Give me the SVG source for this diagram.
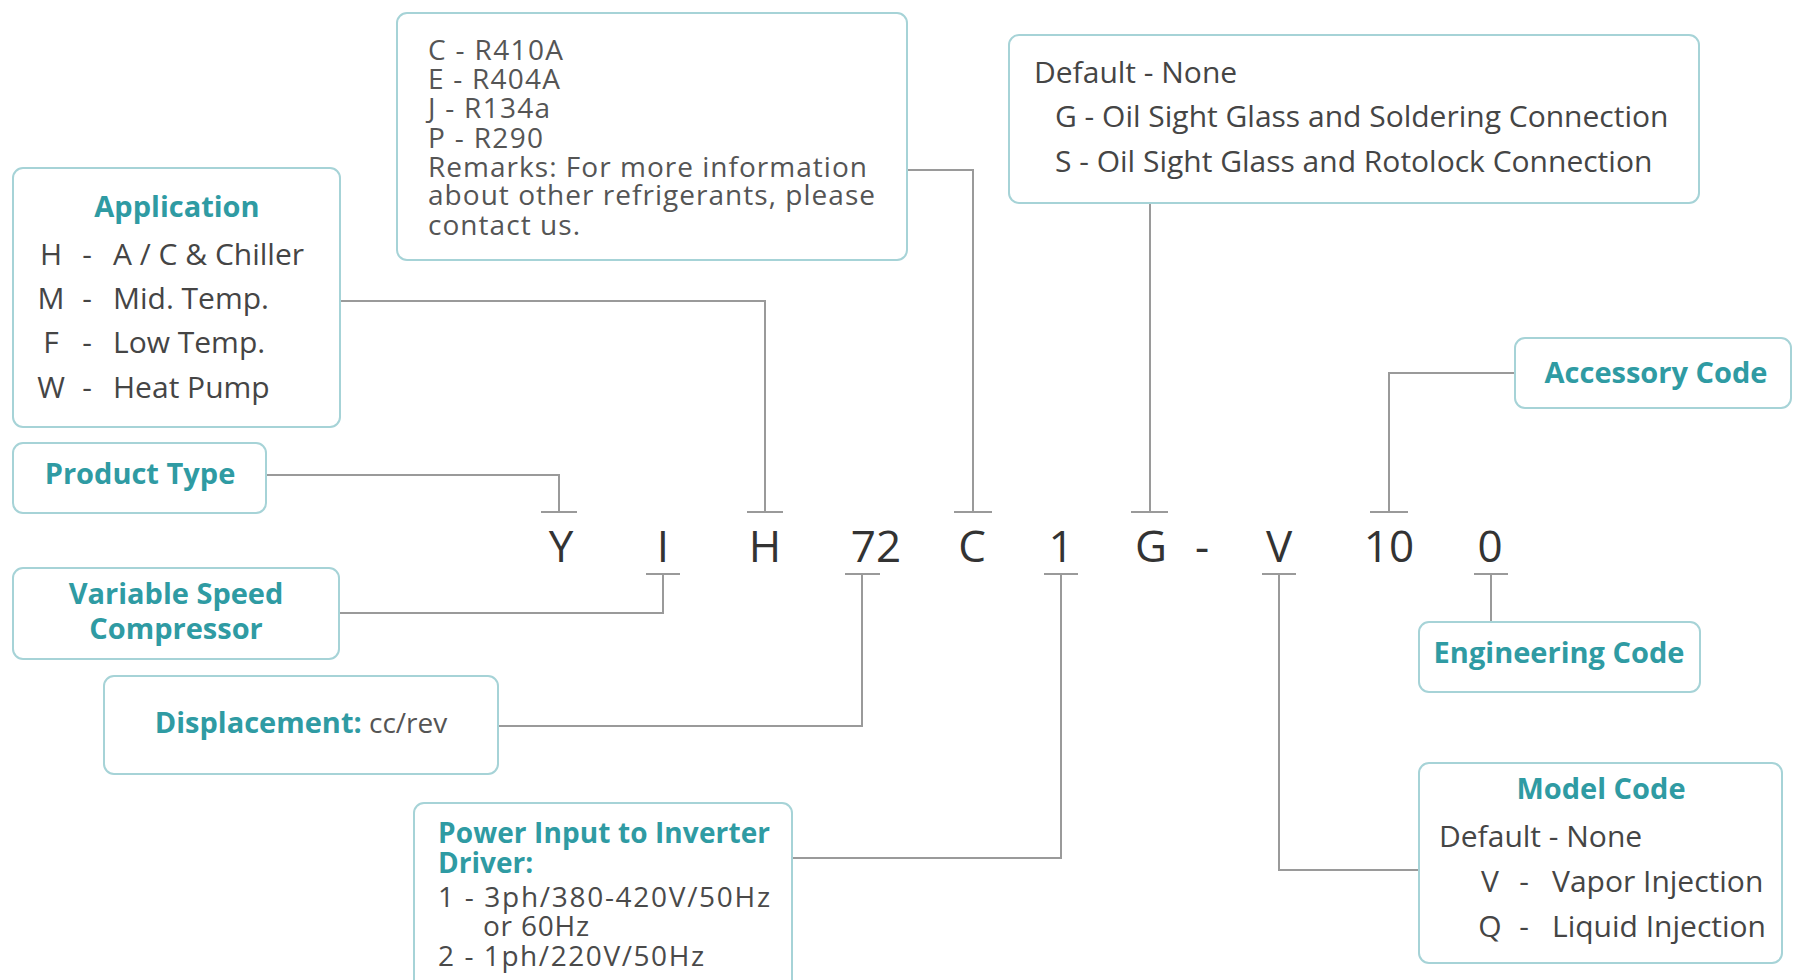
<svg xmlns="http://www.w3.org/2000/svg" width="1793" height="980" viewBox="0 0 1793 980">
<style>
.box{fill:#fff;stroke:#a6d3d7;stroke-width:2}
.ttl{font-family:"Open Sans","Noto Sans",sans-serif;font-weight:700;fill:#2f9ba3;font-size:29px}
.txt{font-family:"Open Sans","Noto Sans",sans-serif;fill:#454545;font-size:30px}
.ref{font-family:"Open Sans","Noto Sans",sans-serif;fill:#555;font-size:28px}
.pw{font-family:"Open Sans","Noto Sans",sans-serif;fill:#4a4a4a;font-size:28px}
.code{font-family:"Open Sans","Noto Sans",sans-serif;fill:#333;font-size:44px;text-anchor:middle}
.mid{text-anchor:middle}
.con{fill:none;stroke:#9a9a9a;stroke-width:2}
</style>
<rect width="1793" height="980" fill="#fff"/>
<g id="connectors">
<path class="con" d="M340 301H765V512M747 512H783"/>
<path class="con" d="M266 475H559V512M541 512H577"/>
<path class="con" d="M907 170H973V512M954 512H992"/>
<path class="con" d="M1150 203V512M1131 512H1168"/>
<path class="con" d="M1515 373H1389V512M1370 512H1408"/>
<path class="con" d="M339 613H663V574M646 574H680"/>
<path class="con" d="M498 726H862V574M845 574H880"/>
<path class="con" d="M792 858H1061V574M1044 574H1078"/>
<path class="con" d="M1419 870H1279V574M1262 574H1296"/>
<path class="con" d="M1491 622V574M1474 574H1508"/>
</g>
<g id="code">
<text class="code" x="561" y="562">Y</text>
<text class="code" x="663" y="562">I</text>
<text class="code" x="765" y="562">H</text>
<text class="code" x="876" y="562">72</text>
<text class="code" x="972" y="562">C</text>
<text class="code" x="1061" y="562">1</text>
<text class="code" x="1151" y="562">G</text>
<text class="code" x="1202" y="562">-</text>
<text class="code" x="1279" y="562">V</text>
<text class="code" x="1389" y="562">10</text>
<text class="code" x="1490" y="562">0</text>
</g>
<g id="application">
<rect class="box" x="13" y="168" width="327" height="259" rx="10"/>
<text class="ttl mid" x="177" y="217">Application</text>
<text class="txt mid" x="51" y="265">H</text><text class="txt mid" x="87" y="265">-</text><text class="txt" x="113" y="265">A / C &amp; Chiller</text>
<text class="txt mid" x="51" y="309">M</text><text class="txt mid" x="87" y="309">-</text><text class="txt" x="113" y="309">Mid. Temp.</text>
<text class="txt mid" x="51" y="353">F</text><text class="txt mid" x="87" y="353">-</text><text class="txt" x="113" y="353">Low Temp.</text>
<text class="txt mid" x="51" y="398">W</text><text class="txt mid" x="87" y="398">-</text><text class="txt" x="113" y="398">Heat Pump</text>
</g>
<g id="product-type">
<rect class="box" x="13" y="443" width="253" height="70" rx="10"/>
<text class="ttl mid" x="140" y="484">Product Type</text>
</g>
<g id="variable-speed">
<rect class="box" x="13" y="568" width="326" height="91" rx="10"/>
<text class="ttl mid" x="176" y="604">Variable Speed</text>
<text class="ttl mid" x="176" y="639">Compressor</text>
</g>
<g id="displacement">
<rect class="box" x="104" y="676" width="394" height="98" rx="10"/>
<text class="ttl mid" x="301" y="733">Displacement:<tspan style="font-weight:400;fill:#555;font-size:28px"> cc/rev</tspan></text>
</g>
<g id="power-input">
<rect class="box" x="414" y="803" width="378" height="200" rx="10"/>
<text class="ttl" x="438" y="843" style="font-size:28px" textLength="332">Power Input to Inverter</text>
<text class="ttl" x="438" y="873" style="font-size:28px">Driver:</text>
<text class="pw" x="438" y="907" textLength="332">1 - 3ph/380-420V/50Hz</text>
<text class="pw" x="483" y="936" textLength="106">or 60Hz</text>
<text class="pw" x="438" y="966" textLength="266">2 - 1ph/220V/50Hz</text>
</g>
<g id="refrigerant">
<rect class="box" x="397" y="13" width="510" height="247" rx="10"/>
<text class="ref" x="428" y="60" textLength="135">C - R410A</text>
<text class="ref" x="428" y="89" textLength="132">E - R404A</text>
<text class="ref" x="428" y="118" textLength="122">J - R134a</text>
<text class="ref" x="428" y="148" textLength="115">P - R290</text>
<text class="ref" x="428" y="177" textLength="439">Remarks: For more information</text>
<text class="ref" x="428" y="205" textLength="447">about other refrigerants, please</text>
<text class="ref" x="428" y="235" textLength="152">contact us.</text>
</g>
<g id="oil-sight-glass">
<rect class="box" x="1009" y="35" width="690" height="168" rx="10"/>
<text class="txt" x="1034" y="83">Default - None</text>
<text class="txt" x="1055" y="127">G - Oil Sight Glass and Soldering Connection</text>
<text class="txt" x="1055" y="172">S - Oil Sight Glass and Rotolock Connection</text>
</g>
<g id="accessory-code">
<rect class="box" x="1515" y="338" width="276" height="70" rx="10"/>
<text class="ttl mid" x="1656" y="383">Accessory Code</text>
</g>
<g id="engineering-code">
<rect class="box" x="1419" y="622" width="281" height="70" rx="10"/>
<text class="ttl mid" x="1559" y="663">Engineering Code</text>
</g>
<g id="model-code">
<rect class="box" x="1419" y="763" width="363" height="200" rx="10"/>
<text class="ttl mid" x="1601" y="799">Model Code</text>
<text class="txt" x="1439" y="847">Default - None</text>
<text class="txt mid" x="1490" y="892">V</text><text class="txt mid" x="1524" y="892">-</text><text class="txt" x="1552" y="892">Vapor Injection</text>
<text class="txt mid" x="1490" y="937">Q</text><text class="txt mid" x="1524" y="937">-</text><text class="txt" x="1552" y="937">Liquid Injection</text>
</g>
</svg>
